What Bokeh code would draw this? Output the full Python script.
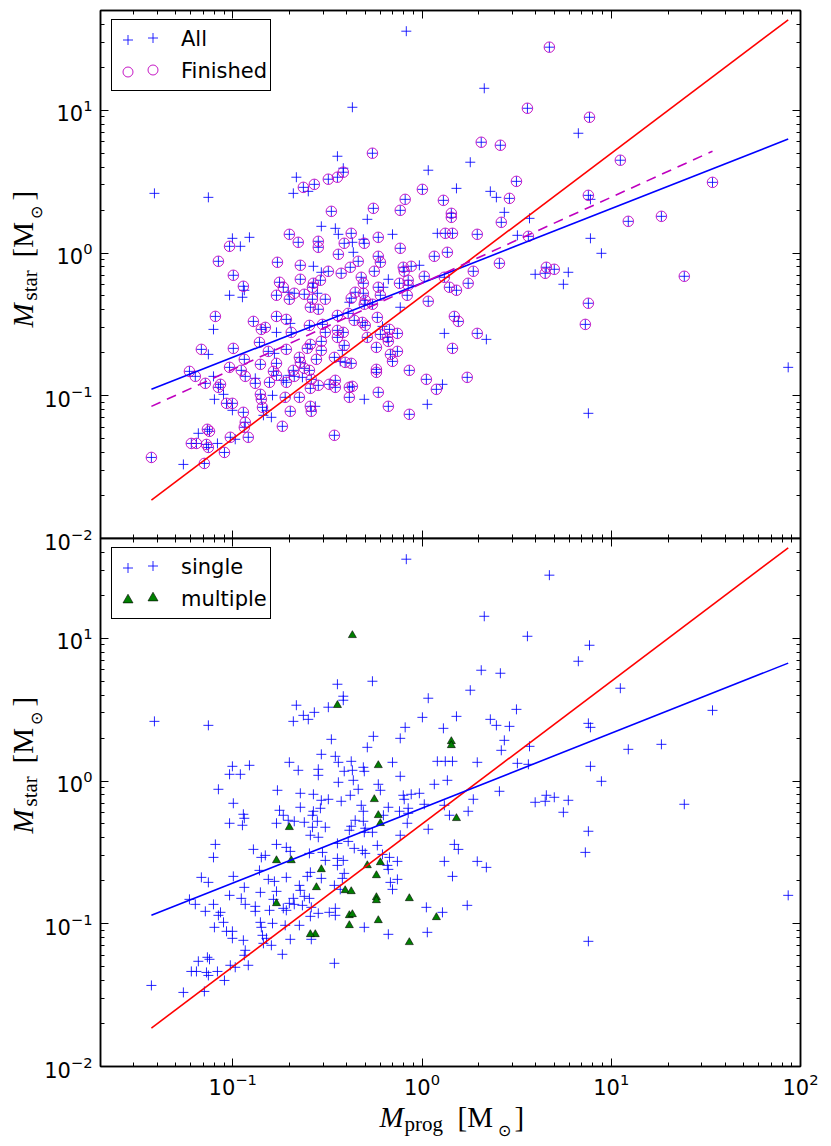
import numpy as np
from bokeh.plotting import figure
from bokeh.models import LogAxis, FixedTicker, LogTickFormatter, Label, Legend, LegendItem
from bokeh.layouts import column, row
from bokeh.embed import file_html
from bokeh.resources import INLINE

# ---------------- data (log10 of masses in solar masses) -------------
# unfinished, single
us_log_mprog = [-0.083, 0.329, 0.826, 0.890, 0.890, 0.948, 1.935, 0.879, 0.747, 0.773,
                -1.414, -1.129, -0.664, -0.680, -0.601, -0.532, -1.002, -0.912, -0.960, -0.574,
                -0.532, -0.939, -1.017, -0.949, -0.707, -0.553,
                -0.447, 0.255, 0.033, 0.182, 0.361, 0.393, 0.435, -0.289, 0.568, -0.458,
                -0.442, -0.368, -0.310, -0.156, 0.081, 0.504, -0.363, -0.014, 0.598, -0.178,
                -0.204, -0.384, -0.115, -0.416,
                -1.102, -0.696, -1.129, -0.780, -1.102, -0.881, -0.733, -0.701, -0.632, -1.097,
                -1.049, -1.002, -0.822, -0.790, -0.838, -0.796, -1.182, -1.081, -0.987, -1.261,
                -0.209, 0.118, 0.340, -0.421, -0.432, 0.108, -0.305, 0.028]
us_log_mstar = [1.554, 1.154, 0.839, 0.376, 0.103, -0.002, -0.801, -1.123, -0.219, -0.135,
                0.418, 0.390, 0.531, 0.418, 0.432, 0.187, 0.103, 0.110, 0.047, -0.093,
                -0.135, -0.261, -0.296, -0.310, -0.275, -0.282,
                0.678, 0.636, 0.580, 0.453, 0.432, 0.390, 0.285, 0.236, 0.243, 0.173,
                0.131, 0.075, 0.096, 0.131, 0.138, 0.124, 0.005, -0.086, -0.149, -0.184,
                -0.240, -0.345, -0.380, 0.594,
                -0.535, -0.493, -0.710, -0.703, -0.864, -0.878, -0.892, -0.857, -0.871, -1.025,
                -0.990, -1.102, -1.102, -0.997, -1.137, -1.151, -1.263, -1.334, -1.305, -1.481,
                -0.514, -0.563, -0.605, -0.682, -0.759, -0.920, -1.025, -1.060]

# unfinished, multiple
um_log_mprog = [-0.368, -0.769, -0.564]
um_log_mstar = [1.021, -0.556, -1.074]

# finished, single
fs_log_mprog = [0.673, 0.557, 0.885, 1.048, 1.535, 0.879, 1.090, 1.265, 1.386, 0.879, 0.863,
                -0.627, -0.569, -0.495, -1.017, -0.701, -0.654, -0.548, -0.548, -1.076, -0.764,
                -0.643, -0.997, -0.495, -0.944, -0.753, -0.733, -0.643, -0.574, -0.579, -0.537,
                -0.769, -0.675, -0.622, -0.511, -0.579,
                -0.262, 0.313, 0.414, 0.499, 0.002, 0.462, -0.089, 0.113, -0.257, -0.115,
                -0.479, 0.419, -0.374, -0.411, -0.305, 0.123, 0.161, 0.292, 0.562, -0.115,
                0.134, 0.065, -0.231, -0.220, -0.442, -0.337, -0.379, -0.427, -0.099, -0.094,
                -0.057, 0.012, 0.118, 0.271, 0.409, 0.657, 0.699, 0.651, -0.321, -0.310,
                -0.119, -0.073, -0.073, 0.145, 0.244, -0.353, -0.310, -0.078, -0.374, -0.300,
                -0.305, -0.262, 0.033, -0.416,
                -1.092, -0.891, -0.849, -0.828, -0.769, -0.717, -0.590, -0.548, -0.595, -0.526,
                -0.511, -0.447, -1.166, -0.997, -0.859, -0.812, -0.717, -0.590, -0.606, -0.532,
                -0.463, -0.939, -0.854, -0.769, -0.648, -0.643, -0.622, -0.595, -1.229, -1.198,
                -1.017, -0.955, -0.934, -1.145, -0.881, -0.806, -0.785, -0.717, -0.680, -0.675,
                -0.585, -0.548, -0.590, -0.490, -0.458, -0.458, -1.076, -1.065, -1.033, -1.002,
                -0.944, -0.854, -0.849, -0.843, -0.723, -0.648, -0.696, -0.585, -0.738, -0.934,
                -0.939, -1.134, -1.123, -1.219, -1.192, -1.139, -1.129, -1.013, -0.918, -1.044,
                -0.463, -1.430, -1.150,
                0.171, 0.192, -0.447, -0.390, -0.358, -0.236, -0.315, -0.300, -0.416, -0.447,
                -0.172, -0.130, -0.183, -0.178, 0.292, -0.411, 0.161, -0.130, -0.167, -0.156,
                0.023, 0.239, -0.178]
fs_log_mstar = [1.442, 1.014, 0.951, 0.650, 0.495, 0.404, 0.222, 0.257, -0.163, -0.352, -0.500,
                0.460, 0.481, 0.517, 0.047, 0.131, 0.075, 0.082, 0.040, -0.058, -0.065,
                -0.086, -0.156, -0.128, -0.233, -0.205, -0.240, -0.184, -0.212, -0.240, -0.191,
                -0.296, -0.282, -0.289, -0.324, -0.324,
                0.699, 0.776, 0.755, 0.502, 0.446, 0.383, 0.376, 0.369, 0.313, 0.299,
                0.292, 0.215, 0.138, 0.068, 0.068, 0.138, 0.138, 0.131, 0.117, 0.033,
                0.005, -0.023, -0.023, -0.065, -0.009, -0.058, -0.100, -0.142, -0.100, -0.128,
                -0.093, -0.163, -0.170, -0.128, -0.072, -0.100, -0.114, -0.142, -0.170, -0.212,
                -0.212, -0.191, -0.226, -0.240, -0.212, -0.275, -0.282, -0.296, -0.317, -0.331,
                -0.359, -0.359, -0.338, 0.566,
                -0.444, -0.479, -0.535, -0.521, -0.444, -0.465, -0.380, -0.394, -0.507, -0.500,
                -0.556, -0.542, -0.675, -0.668, -0.626, -0.689, -0.675, -0.640, -0.668, -0.682,
                -0.731, -0.745, -0.780, -0.773, -0.731, -0.766, -0.808, -0.822, -0.829, -0.864,
                -0.801, -0.822, -0.864, -0.913, -0.913, -0.906, -0.829, -0.906, -0.822, -0.864,
                -0.885, -0.927, -0.948, -0.920, -0.892, -0.941, -0.941, -0.920, -1.053, -1.053,
                -1.116, -0.990, -1.025, -1.081, -1.011, -1.011, -1.109, -1.109, -1.214, -1.186,
                -1.221, -1.235, -1.249, -1.334, -1.334, -1.341, -1.362, -1.291, -1.291, -1.397,
                -1.277, -1.432, -1.474,
                -0.444, -0.479, -0.437, -0.423, -0.472, -0.451, -0.486, -0.507, -0.556, -0.591,
                -0.535, -0.563, -0.591, -0.619, -0.563, -0.647, -0.668, -0.689, -0.710, -0.759,
                -0.885, -0.871, -1.074]

# finished, multiple
fm_log_mprog = [-0.701, 0.155, 0.155, -0.231, -0.252, -0.231, 0.182, -0.220, -0.447,
                -0.691, -0.532, -0.558, -0.769, -0.590,
                -0.289, -0.220, -0.241, -0.406, -0.374, -0.067, -0.241, -0.241, 0.076, -0.384,
                -0.368, -0.384, -0.231, -0.067]
fm_log_mstar = [-0.324, 0.278, 0.250, 0.110, -0.128, -0.240, -0.261, -0.296, 0.531,
                -0.556, -0.619, -0.745, -0.857, -1.074,
                -0.591, -0.570, -0.661, -0.766, -0.773, -0.822, -0.815, -0.836, -0.955, -0.941,
                -0.934, -1.011, -0.976, -1.130]

# fitted relations (log10 Mstar = intercept + slope * log10 Mprog)
fit_all = (-0.210, 0.521)        # blue, upper panel
fit_finished = (-0.212, 0.603)   # magenta dashed, upper panel
fit_single = (-0.190, 0.525)     # blue, lower panel
ratio_half = 0.5                 # red line: Mstar = 0.5 Mprog

x_range = (0.02, 100.0)
y_range = (0.01, 50.0)
major_x = [0.1, 1.0, 10.0, 100.0]
major_y = [0.01, 0.1, 1.0, 10.0]
minor_ticks = [m * 10.0 ** e for e in range(-2, 2) for m in range(2, 10)]

legend_top = ["All", "Finished"]
legend_bottom = ["single", "multiple"]

# ---------------- derived ----------------
def lin(a):
    return 10.0 ** np.asarray(a, dtype=float)

all_lx = np.concatenate([us_log_mprog, um_log_mprog, fs_log_mprog, fm_log_mprog])
all_ly = np.concatenate([us_log_mstar, um_log_mstar, fs_log_mstar, fm_log_mstar])
fin_lx = np.concatenate([fs_log_mprog, fm_log_mprog])
fin_ly = np.concatenate([fs_log_mstar, fm_log_mstar])
sin_lx = np.concatenate([us_log_mprog, fs_log_mprog])
sin_ly = np.concatenate([us_log_mstar, fs_log_mstar])
mul_lx = np.concatenate([um_log_mprog, fm_log_mprog])
mul_ly = np.concatenate([um_log_mstar, fm_log_mstar])

span_all = np.array([all_lx.min(), all_lx.max()])
span_fin = np.array([fin_lx.min(), fin_lx.max()])

BLUE = "#0000ff"
MAG = "#bf00bf"
RED = "#ff0000"
GREEN = "#008000"
SERIF = "Liberation Serif"

LAB_W = 48      # strip holding the vertical axis titles
LEFT_B = 72     # border left of each frame (tick labels)
FRAME_X = 100   # where the frames start
OVERLAP = LAB_W + LEFT_B - FRAME_X
GAP = 16        # extra canvas below the upper frame (room for its 10^-2 label)
TOPB = 4        # border above the lower frame
BOT_B = 38      # border below the lower frame (tick labels)
XLAB_H = 56     # strip holding the horizontal axis title
XLAB_OVER = 14  # how far that strip reaches up over the lower figure
MID = 0.34      # baseline offset of a vertically centred text, in em


def style_axis(ax, ticks, labels, standoff=8):
    ax.ticker = FixedTicker(ticks=ticks, minor_ticks=minor_ticks)
    ax.formatter = LogTickFormatter()
    ax.axis_line_color = "black"
    ax.axis_line_width = 1.5
    ax.major_tick_in = 8
    ax.major_tick_out = 0
    ax.minor_tick_in = 4
    ax.minor_tick_out = 0
    ax.major_tick_line_color = "black"
    ax.minor_tick_line_color = "black"
    ax.major_tick_line_width = 1
    ax.minor_tick_line_width = 1
    if labels:
        ax.major_label_text_font = "DejaVu Sans"
        ax.major_label_text_font_size = "21px"
        ax.major_label_text_color = "black"
        ax.major_label_standoff = standoff
    else:
        ax.major_label_text_font_size = "2px"
        ax.major_label_text_alpha = 0
        ax.major_label_standoff = 0


def make_fig(top_border, bottom_border, x_labels, margin):
    p = figure(x_axis_type="log", y_axis_type="log", x_range=x_range, y_range=y_range,
               frame_width=700, frame_height=528, output_backend="svg", toolbar_location=None,
               min_border_left=LEFT_B, min_border_right=22, min_border_top=top_border,
               min_border_bottom=bottom_border, margin=margin)
    p.grid.visible = False
    p.outline_line_color = "black"
    p.outline_line_width = 1.5
    p.background_fill_color = "white"
    p.border_fill_color = None
    style_axis(p.xaxis[0], major_x, x_labels, standoff=6)
    style_axis(p.yaxis[0], major_y, True, standoff=8)
    right = LogAxis()
    style_axis(right, major_y, False)
    p.add_layout(right, "right")
    above = LogAxis()
    style_axis(above, major_x, False)
    p.add_layout(above, "above")
    return p


def label_fig(width, height, **kw):
    f = figure(width=width, height=height, x_range=(0, 1), y_range=(0, 1),
               output_backend="svg", toolbar_location=None,
               x_axis_location=None, y_axis_location=None,
               min_border_left=0, min_border_right=0, min_border_top=0, min_border_bottom=0,
               **kw)
    f.grid.visible = False
    f.outline_line_color = None
    f.background_fill_color = None
    f.border_fill_color = None
    return f


def px(size):
    return float(size.replace("px", ""))


def add_ylabel(f, bottom_border):
    # (text, baseline x from page left, start height above panel frame bottom, size, style)
    pieces = [("M", 32.5, 195, "29px", "italic"),
              ("star", 37, 222, "21px", "normal"),
              ("[M", 32.5, 265, "29px", "normal"),
              ("\u2299", 41.5, 304, "16px", "normal"),
              ("]", 32.5, 322, "29px", "normal")]
    for text, x, y, size, style in pieces:
        f.add_layout(Label(x=x - MID * px(size), y=y + bottom_border,
                           x_units="screen", y_units="screen",
                           text=text, angle=np.pi / 2, text_font=SERIF, text_font_size=size,
                           text_font_style=style, text_align="left",
                           text_baseline="middle", text_color="black"))


def add_xlabel(f):
    # (text, x from page left, baseline height above strip bottom, size, style)
    pieces = [("M", 379, 20, "29px", "italic"),
              ("prog", 404, 15.5, "21px", "normal"),
              ("[M", 457, 20, "29px", "normal"),
              ("\u2299", 497, 11, "16px", "normal"),
              ("]", 514, 20, "29px", "normal")]
    for text, x, y, size, style in pieces:
        f.add_layout(Label(x=x, y=y + MID * px(size), x_units="screen", y_units="screen",
                           text=text, text_font=SERIF, text_font_size=size,
                           text_font_style=style, text_align="left",
                           text_baseline="middle", text_color="black"))


def make_legend(items, boxed, x_off, y_off):
    # matplotlib-style legend with two markers per entry: a boxed legend carrying the first
    # marker and the label, and an unboxed one carrying the second marker
    leg = Legend(items=items, location=(x_off, y_off))
    leg.padding = 3
    leg.spacing = 0
    leg.glyph_width = 25
    leg.glyph_height = 27
    leg.label_height = 32
    leg.label_standoff = 41
    leg.label_text_font = "DejaVu Sans"
    leg.label_text_font_size = "21px"
    leg.label_text_color = "black"
    if boxed:
        leg.border_line_color = "black"
        leg.border_line_width = 1.2
        leg.border_line_alpha = 1.0
        leg.background_fill_color = "white"
        leg.background_fill_alpha = 1.0
    else:
        leg.border_line_color = None
        leg.background_fill_color = None
        leg.background_fill_alpha = 0
        leg.label_standoff = 0
        leg.label_text_alpha = 0
    return leg


def add_legends(p, renderers, labels):
    p.add_layout(make_legend([LegendItem(label=t, renderers=[r])
                              for t, r in zip(labels, renderers)], True, 11, 447))
    p.add_layout(make_legend([LegendItem(label="A", renderers=[r])
                              for r in renderers], False, 39.5, 453))


# ---------------- upper panel ----------------
p1 = make_fig(10, GAP, False, margin=(0, 0, 0, -OVERLAP))
r_all = p1.scatter(lin(all_lx), lin(all_ly), marker="cross", size=10, line_color=BLUE,
                   line_width=1, line_alpha=0.85)
r_fin = p1.scatter(lin(fin_lx), lin(fin_ly), marker="circle", size=10.5, fill_color=None,
                   line_color=MAG, line_width=1, line_alpha=0.9)
p1.line(lin(span_all), lin(fit_all[0] + fit_all[1] * span_all), line_color=BLUE, line_width=1.6)
p1.line(lin(span_all), ratio_half * lin(span_all), line_color=RED, line_width=1.6)
p1.line(lin(span_fin), lin(fit_finished[0] + fit_finished[1] * span_fin), line_color=MAG,
        line_width=1.6, line_dash="10 7")
add_legends(p1, [r_all, r_fin], legend_top)
ylab1 = label_fig(LAB_W, 10 + 528 + GAP)
add_ylabel(ylab1, GAP)

# ---------------- lower panel ----------------
p2 = make_fig(TOPB, BOT_B, True, margin=(0, 0, 0, -OVERLAP))
r_sin = p2.scatter(lin(sin_lx), lin(sin_ly), marker="cross", size=10, line_color=BLUE,
                   line_width=1, line_alpha=0.85)
r_mul = p2.scatter(lin(mul_lx), lin(mul_ly), marker="triangle", size=8, fill_color=GREEN,
                   line_color="black", line_width=0.6)
p2.line(lin(span_all), ratio_half * lin(span_all), line_color=RED, line_width=1.6)
p2.line(lin(span_all), lin(fit_single[0] + fit_single[1] * span_all), line_color=BLUE,
        line_width=1.6)
add_legends(p2, [r_sin, r_mul], legend_bottom)
ylab2 = label_fig(LAB_W, TOPB + 528 + BOT_B)
add_ylabel(ylab2, BOT_B)

xlab = label_fig(FRAME_X + 700 + 22, XLAB_H, margin=(-XLAB_OVER, 0, 0, 0))
add_xlabel(xlab)

layout = column(row(ylab1, p1),
                row(ylab2, p2, margin=(-(GAP + TOPB), 0, 0, 0)),
                xlab)
open("out.html", "w").write(file_html(layout, INLINE, title="Mstar vs Mprog"))
